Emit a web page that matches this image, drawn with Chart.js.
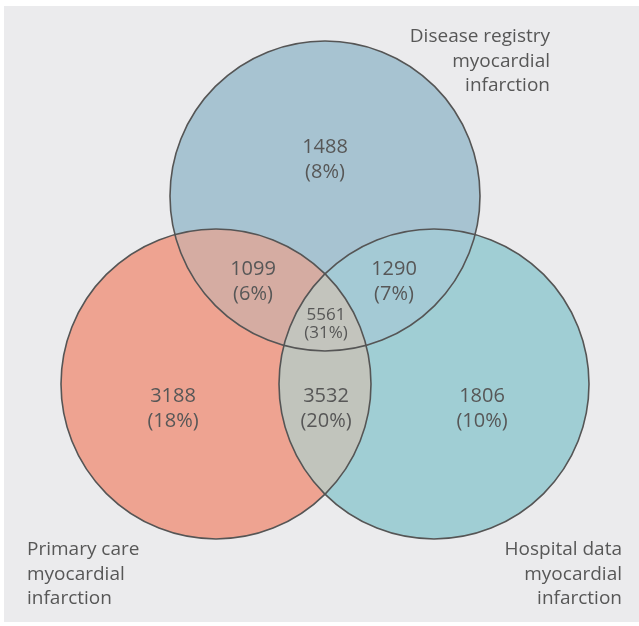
<!DOCTYPE html>
<html>
<head>
<meta charset="utf-8">
<script src="https://cdn.jsdelivr.net/npm/chart.js@4.4.1/dist/chart.umd.min.js"></script>
<style>
  html, body { margin: 0; padding: 0; background: #fff; }
  #box { position: relative; width: 639px; height: 626px; }
</style>
</head>
<body>
<div id="box"><canvas id="venn"></canvas></div>
<script>
// sets (one circle each)
const setNames = [
  ['Primary care', 'myocardial', 'infarction'],
  ['Disease registry', 'myocardial', 'infarction'],
  ['Hospital data', 'myocardial', 'infarction']
];
const setColors = ['#eea391', '#a7c3d1', '#a0ced4'];

// regions: P only, D only, H only, P+D, P+H, D+H, all three
const regionCounts = [3188, 1488, 1806, 1099, 3532, 1290, 5561];
const regionPercents = [18, 8, 10, 6, 20, 7, 31];

// layout of the diagram (in axis units, 1 unit = 1px)
const circleX = [216, 325, 434];
const circleY = [384, 196, 384];
const circleR = 155;
const regionX = [173, 325, 482, 253, 326, 394, 326];
const regionY = [409, 160, 409, 282, 409, 282, 324];
const overlapColors = { '0-1': '#d5aca2', '0-2': '#c1c4bc', '1-2': '#a4cad5', all: '#c3c4bd' };

document.addEventListener('DOMContentLoaded', function() {
  const textColor = '#575757';
  const fontFamily = '"Open Sans", "Noto Sans", sans-serif';

  function circlePath(ctx, chart, i) {
    const xs = chart.scales.x, ys = chart.scales.y;
    const cx = xs.getPixelForValue(circleX[i]);
    const cy = ys.getPixelForValue(circleY[i]);
    const r = xs.getPixelForValue(circleR) - xs.getPixelForValue(0);
    ctx.beginPath();
    ctx.arc(cx, cy, r, 0, Math.PI * 2);
  }

  const vennPlugin = {
    id: 'venn',
    beforeDraw(chart) {
      const ctx = chart.ctx;
      ctx.save();
      ctx.fillStyle = '#ffffff';
      ctx.fillRect(0, 0, chart.width, chart.height);
      ctx.fillStyle = '#ebebed';
      ctx.fillRect(4, 6, chart.width - 4, chart.height - 10);
      ctx.restore();
    },
    afterDatasetsDraw(chart) {
      const ctx = chart.ctx;
      const xs = chart.scales.x, ys = chart.scales.y;

      // pairwise overlaps
      [[0, 1], [0, 2], [1, 2]].forEach(function(p) {
        ctx.save();
        circlePath(ctx, chart, p[0]);
        ctx.clip();
        circlePath(ctx, chart, p[1]);
        ctx.fillStyle = overlapColors[p[0] + '-' + p[1]];
        ctx.fill();
        ctx.restore();
      });
      // centre
      ctx.save();
      circlePath(ctx, chart, 0); ctx.clip();
      circlePath(ctx, chart, 1); ctx.clip();
      circlePath(ctx, chart, 2);
      ctx.fillStyle = overlapColors.all;
      ctx.fill();
      ctx.restore();

      // outlines
      ctx.save();
      ctx.strokeStyle = '#555555';
      ctx.lineWidth = 1.6;
      for (let i = 0; i < 3; i++) {
        circlePath(ctx, chart, i);
        ctx.stroke();
      }
      ctx.restore();

      // region counts
      ctx.save();
      ctx.fillStyle = textColor;
      ctx.textAlign = 'center';
      ctx.textBaseline = 'middle';
      regionCounts.forEach(function(n, i) {
        const small = i === 6;
        const lh = small ? 18 : 25;
        ctx.font = (small ? '17px ' : '20px ') + fontFamily;
        const x = xs.getPixelForValue(regionX[i]);
        const y = ys.getPixelForValue(regionY[i]);
        ctx.fillText(String(n), x, y - lh / 2);
        ctx.fillText('(' + regionPercents[i] + '%)', x, y + lh / 2);
      });

      // set names
      ctx.font = '19px ' + fontFamily;
      const namePos = [
        { x: 27, y: 550, align: 'left' },
        { x: 550, y: 37, align: 'right' },
        { x: 622, y: 550, align: 'right' }
      ];
      setNames.forEach(function(lines, i) {
        ctx.textAlign = namePos[i].align;
        lines.forEach(function(t, k) {
          ctx.fillText(t, namePos[i].x, namePos[i].y + k * 24.5);
        });
      });
      ctx.restore();
    }
  };

  const ctx = document.getElementById('venn').getContext('2d');
  new Chart(ctx, {
    type: 'bubble',
    data: {
      datasets: [{
        data: circleX.map(function(x, i) { return { x: x, y: circleY[i], r: circleR }; }),
        backgroundColor: setColors,
        borderWidth: 0,
        clip: false
      }]
    },
    options: {
      responsive: true,
      maintainAspectRatio: false,
      animation: false,
      events: [],
      layout: { padding: 0, autoPadding: false },
      scales: {
        x: { type: 'linear', min: 0, max: 639, display: false },
        y: { type: 'linear', min: 0, max: 626, reverse: true, display: false }
      },
      plugins: {
        legend: { display: false },
        tooltip: { enabled: false }
      }
    },
    plugins: [vennPlugin]
  });
});
</script>
</body>
</html>
